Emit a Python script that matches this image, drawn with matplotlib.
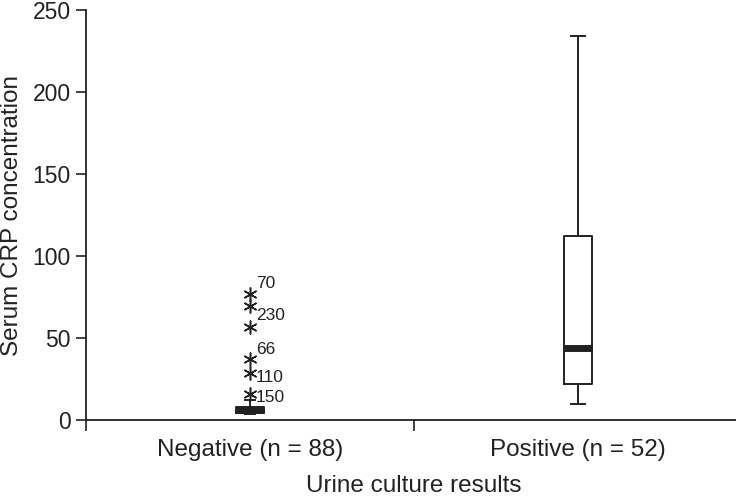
import matplotlib
matplotlib.use("Agg")
import matplotlib.pyplot as plt

plt.rcParams["font.family"] = ["Liberation Sans", "DejaVu Sans"]

# ---------------------------
# DATA
# ---------------------------
groups = ["Negative (n = 88)", "Positive (n = 52)"]
q1 = [4.3, 22]
median = [6, 44]
q3 = [7.9, 112]
whisker_lo = [3.5, 9.8]
whisker_hi = [12.5, 234]

neg_outliers = [77, 69.5, 57, 37, 28.7, 16]
neg_outlier_ids = ["70", "230", "", "66", "110", "150"]
# label offsets in pixels (dx, dy) relative to each asterisk
label_offsets = [(6, 10), (6, -9), (6, 0), (6, 10), (6, -5), (6, -4)]

yticks = [0, 50, 100, 150, 200, 250]

# ---------------------------
# FIGURE
# ---------------------------
fig = plt.figure(figsize=(7.36, 4.96), dpi=100)
ax = fig.add_axes([86 / 736, 76 / 496, 656 / 736, 410 / 496])

stats = []
for i in range(len(groups)):
    stats.append({
        "q1": q1[i], "med": median[i], "q3": q3[i],
        "whislo": whisker_lo[i], "whishi": whisker_hi[i],
        "fliers": [],
    })

ax.bxp(stats, positions=[1, 2], widths=0.085, showfliers=False,
       boxprops=dict(color="#222222", linewidth=1.4),
       whiskerprops=dict(color="#222222", linewidth=1.4),
       capprops=dict(color="#222222", linewidth=1.4),
       medianprops=dict(color="#222222", linewidth=5, solid_capstyle="butt"),
       capwidths=[0.03, 0.043])

# outliers as asterisks
ax.plot([1] * len(neg_outliers), neg_outliers, linestyle="none",
        marker=(6, 2, 0), markersize=10, markeredgewidth=1.1,
        color="#222222", clip_on=False)
for y, lab, (dx, dy) in zip(neg_outliers, neg_outlier_ids, label_offsets):
    if lab:
        ax.annotate(lab, (1, y), xytext=(dx, dy), textcoords="offset pixels",
                    ha="left", va="center", fontsize=12.5, color="#222222")

ax.set_xlim(0.5, 2.5)
ax.set_ylim(0, 250)
ax.set_yticks(yticks)
ax.set_xticks([0.5, 1.5, 2.5])
ax.set_xticklabels([])
ax.set_xticks([1, 2], minor=True)
ax.set_xticklabels(groups, minor=True)
ax.tick_params(axis="x", which="major", direction="out", length=8,
               width=1.2, color="#222222")
ax.tick_params(axis="x", which="minor", length=0, pad=14, labelsize=17.5,
               labelcolor="#222222")
ax.tick_params(axis="y", direction="out", length=7, width=1.2,
               color="#222222", labelsize=16.5, pad=4, labelcolor="#222222")

for side in ["top", "right"]:
    ax.spines[side].set_visible(False)
for side in ["left", "bottom"]:
    ax.spines[side].set_linewidth(1.3)
    ax.spines[side].set_color("#222222")

ax.set_ylabel("Serum CRP concentration", fontsize=17.5, labelpad=7,
              color="#222222")
ax.set_xlabel("Urine culture results", fontsize=17.5, labelpad=10,
              color="#222222")

fig.savefig("out.png", dpi=100)
